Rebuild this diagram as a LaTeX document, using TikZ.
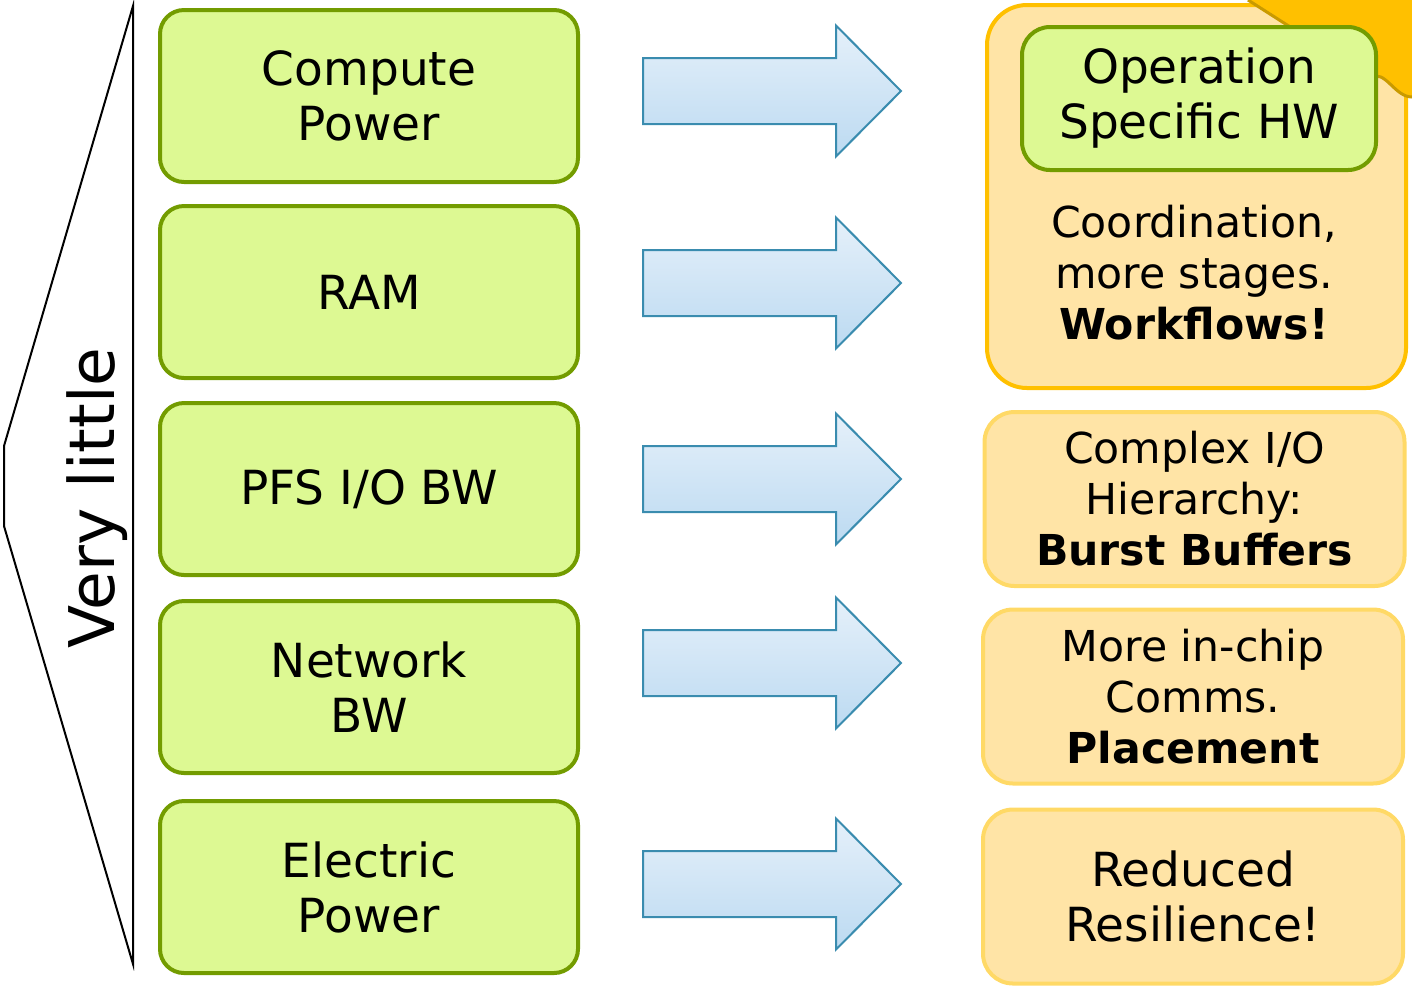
\documentclass[tikz,border=0pt]{standalone}
\usepackage{fontspec}
\setmainfont{DejaVu Sans}
\usetikzlibrary{shapes}

\definecolor{resgreen}{HTML}{DDF993}
\definecolor{resgreenline}{HTML}{739C00}
\definecolor{effectfill}{HTML}{FFE4A6}
\definecolor{effectline}{HTML}{FFD966}
\definecolor{blobgold}{HTML}{FFC000}
\definecolor{blobline}{HTML}{C99A00}
\definecolor{arrtop}{HTML}{E5F0FA}
\definecolor{arrbot}{HTML}{BCDAF1}
\definecolor{arrline}{HTML}{3A8CAF}

\begin{document}
\begin{tikzpicture}[x=0.5pt,y=-0.5pt]
  \useasboundingbox (0,0) rectangle (1412,987);
  \tikzstyle{resource}=[rectangle,draw=resgreenline,fill=resgreen,line width=2pt,rounded corners=12pt,
                        minimum width=209pt,minimum height=86pt,align=center,font=\fontsize{23.5}{27.5}\selectfont]
  \tikzstyle{effect}=[rectangle,draw=effectline,fill=effectfill,line width=2pt,rounded corners=15pt,
                      minimum width=210pt,minimum height=87pt,align=center,font=\fontsize{21.3}{25.5}\selectfont]
  \tikzstyle{blockarrow}=[top color=arrtop,bottom color=arrbot,draw=arrline,line width=1pt]

%% brace on the left
  \draw[line width=1pt] (133,6) -- (4,446) -- (4,526) -- (133,964) -- cycle;
  \node[rotate=90,font=\fontsize{31.5}{36}\selectfont] (verylittle) at (97,498) {Very little};

%% resources
  \foreach \n/\yc/\txt in {1/96/{Compute\\Power}, 2/292/{RAM}, 3/489/{PFS I/O BW},
                           4/687/{Network\\BW},   5/887/{Electric\\Power}}
    \node[resource] (res-\n) at (369,\yc) {\txt};

%% block arrows
  \foreach \yc in {91,283,479,663,884}
    \shade[blockarrow] (643,\yc-33) -- (836,\yc-33) -- (836,\yc-65.5) -- (901,\yc)
                       -- (836,\yc+65.5) -- (836,\yc+33) -- (643,\yc+33) -- cycle;

%% effects
  \node[effect,draw=blobgold,minimum height=191.5pt,minimum width=209.5pt,rounded corners=20pt] (workflows) at (1196.5,196.5) {};
  \fill[blobgold] (1248,0) -- (1370,78) to[out=33,in=180] (1412,97) -- (1412,0) -- cycle;
  \draw[blobline,line width=1.5pt] (1248,0) -- (1370,78) to[out=33,in=180] (1412,97);
  \node[resource,minimum width=177pt,minimum height=71.5pt,rounded corners=14pt] (ophw) at (1199,98.5) {Operation\\Specific HW};
  \node[align=center,font=\fontsize{21.3}{25.5}\selectfont] (workflows-txt) at (1194,273)
    {Coordination,\\more stages.\\\textbf{Workflows!}};

  \node[effect] (burst) at (1194.5,499) {Complex I/O\\Hierarchy:\\\textbf{Burst Buffers}};
  \node[effect] (placement) at (1193,696.5) {More in-chip\\Comms.\\\textbf{Placement}};
  \node[effect,font=\fontsize{23.5}{27.5}\selectfont] (resilience) at (1193,896.5) {Reduced\\Resilience!};
\end{tikzpicture}
\end{document}
